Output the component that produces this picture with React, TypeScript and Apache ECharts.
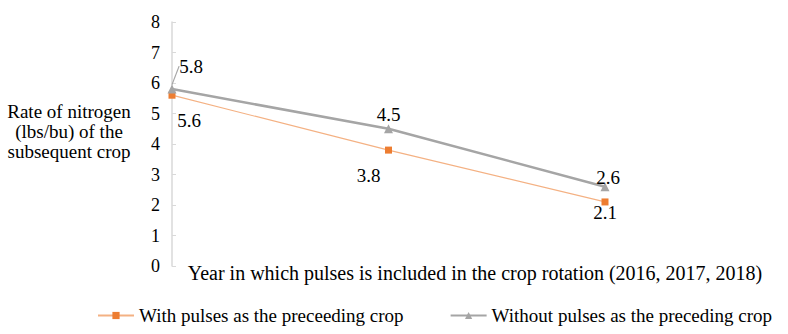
import React, { useEffect, useRef } from "react";
import * as echarts from "echarts";

const categories = ["2016", "2017", "2018"];
const withPulses = [5.6, 3.8, 2.1];
const withoutPulses = [5.8, 4.5, 2.6];
const yTicks = [0, 1, 2, 3, 4, 5, 6, 7, 8];
const seriesNames = ["With pulses as the preceeding crop", "Without pulses as the preceding crop"];
const yAxisTitle = ["Rate of nitrogen", "(lbs/bu) of the", "subsequent crop"];
const xAxisTitle = "Year in which pulses is included in the crop rotation (2016, 2017, 2018)";

const FONT = "Liberation Serif";

export default function App() {
  const ref = useRef<HTMLDivElement>(null);
  useEffect(() => {
    const chart = echarts.init(ref.current!, null, { renderer: "svg" });
    const orangeOffsets = [
      [17, 25],
      [-20, 25],
      [0, 11],
    ];
    const grayOffsets = [
      [19, -23],
      [0, -14],
      [3, -9],
    ];
    const labelBase = { show: true, fontFamily: FONT, fontSize: 19, color: "#000" };
    chart.setOption({
      animation: false,
      textStyle: { fontFamily: FONT },
      grid: { left: 172, right: 183, top: 22, bottom: 334 - 266 },
      legend: {
        top: 301,
        left: 92,
        itemGap: 46,
        itemWidth: 36,
        itemHeight: 9,
        textStyle: { fontFamily: FONT, fontSize: 19, color: "#000" },
        data: [seriesNames[0], seriesNames[1]],
      },
      xAxis: {
        type: "category",
        data: categories,
        boundaryGap: false,
        axisLine: { show: false },
        axisTick: { show: false },
        axisLabel: { show: false },
        splitLine: { show: false },
      },
      yAxis: {
        type: "value",
        min: yTicks[0],
        max: yTicks[yTicks.length - 1],
        interval: 1,
        axisLine: { show: true, lineStyle: { color: "#D9D9D9", width: 1.5 } },
        axisTick: { show: true, inside: true, length: 4, lineStyle: { color: "#D9D9D9" } },
        axisLabel: { fontFamily: FONT, fontSize: 18, color: "#000", margin: 12 },
        splitLine: { show: false },
      },
      graphic: [
        ...yAxisTitle.map((t, i) => ({
          type: "text",
          style: {
            text: t,
            x: 69,
            y: 111 + i * 20,
            textAlign: "center",
            textVerticalAlign: "middle",
            fontFamily: FONT,
            fontSize: 19,
            fill: "#000",
          },
        })),
        {
          type: "text",
          style: {
            text: xAxisTitle,
            x: 475,
            y: 273,
            textAlign: "center",
            textVerticalAlign: "middle",
            fontFamily: FONT,
            fontSize: 20,
            fill: "#000",
          },
        },
      ],
      series: [
        {
          name: seriesNames[0],
          type: "line",
          data: withPulses.map((v, i) => ({
            value: v,
            label: { position: "inside", offset: orangeOffsets[i] },
          })),
          symbol: "rect",
          symbolSize: 7,
          itemStyle: { color: "#ED7D31" },
          lineStyle: { color: "#F4B183", width: 1.2 },
          label: labelBase,
          z: 2,
        },
        {
          name: seriesNames[1],
          type: "line",
          data: withoutPulses.map((v, i) => ({
            value: v,
            labelLine: { show: i === 0 },
          })),
          symbol: "triangle",
          symbolSize: 9,
          itemStyle: { color: "#A5A5A5" },
          lineStyle: { color: "#A5A5A5", width: 2.5 },
          label: { ...labelBase, position: "inside" },
          labelLine: { show: false, lineStyle: { color: "#A5A5A5", width: 1.2 } },
          labelLayout: (params: any) => ({
            dx: grayOffsets[params.dataIndex][0],
            dy: grayOffsets[params.dataIndex][1],
          }),
          z: 3,
        },
      ],
    });
    return () => chart.dispose();
  }, []);
  return (
    <div
      ref={ref}
      style={{ position: "absolute", left: 0, top: 0, width: 788, height: 334 }}
    />
  );
}
